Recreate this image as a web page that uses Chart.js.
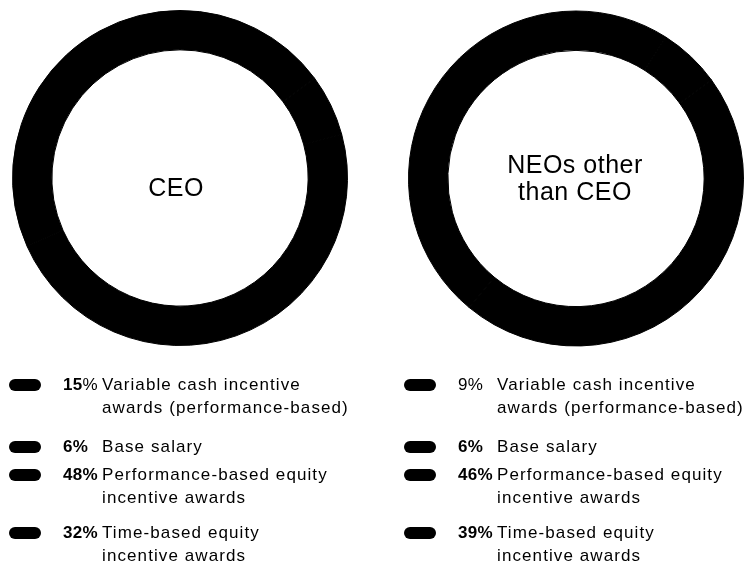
<!DOCTYPE html>
<html>
<head>
<meta charset="utf-8">
<script src="https://cdn.jsdelivr.net/npm/chart.js@4.4.1/dist/chart.umd.min.js"></script>
<style>
  html, body { margin: 0; padding: 0; background: #fff; }
  #wrap { position: relative; width: 753px; height: 563px; overflow: hidden; }
  canvas { position: absolute; top: 0; }
</style>
</head>
<body>
<div id="wrap">
  <canvas id="ceo" width="376" height="563" style="left:0"></canvas>
  <canvas id="neo" width="377" height="563" style="left:376px"></canvas>
</div>
<script>
// categories (each label split in the lines shown in the legend)
const categories = [
  ["Variable cash incentive", "awards (performance-based)"],
  ["Base salary"],
  ["Performance-based equity", "incentive awards"],
  ["Time-based equity", "incentive awards"]
];
const ceoValues = [15, 6, 48, 32];
const neoValues = [9, 6, 46, 39];
const ceoTitle = ["CEO"];
const neoTitle = ["NEOs other", "than CEO"];

const FONT = '"Liberation Sans", Arial, Helvetica, sans-serif';
const rowBaselines = [390, 452, 480, 538];

// center text + legend drawn from chart data
const extras = {
  id: 'extras',
  afterDraw(chart, args, opts) {
    const ctx = chart.ctx;
    const arc = chart.getDatasetMeta(0).data[0];
    const cx = arc.x, cy = arc.y;
    ctx.save();
    ctx.fillStyle = '#000';
    ctx.textAlign = 'center';
    ctx.textBaseline = 'alphabetic';
    ctx.font = '25px ' + FONT;
    ctx.letterSpacing = '0.5px';
    opts.title.forEach((t, i) => {
      ctx.fillText(t, cx + opts.titleDx, cy + opts.titleDy + i * 27);
    });

    const values = chart.data.datasets[0].data;
    const labels = chart.data.labels;
    ctx.textAlign = 'left';
    values.forEach((v, i) => {
      const base = rowBaselines[i];
      const mx = opts.legendX;
      // pill marker
      ctx.beginPath();
      ctx.roundRect(mx, base - 11, 32, 12, 6);
      ctx.fill();
      // percentage
      const numBold = !(opts.plainFirst && i === 0);
      const pctBold = i !== 0;
      ctx.letterSpacing = '0.3px';
      ctx.font = (numBold ? 'bold ' : '') + '17px ' + FONT;
      ctx.fillText(String(v), mx + 54, base);
      const w = ctx.measureText(String(v)).width;
      ctx.font = (pctBold ? 'bold ' : '') + '17px ' + FONT;
      ctx.fillText('%', mx + 54 + w, base);
      // label lines
      ctx.letterSpacing = '1.1px';
      ctx.font = '17px ' + FONT;
      labels[i].forEach((line, j) => {
        ctx.fillText(line, mx + 93, base + j * 23);
      });
    });
    ctx.restore();
  }
};

function makeDonut(id, values, title, padding, extraOpts) {
  return new Chart(document.getElementById(id), {
    type: 'doughnut',
    data: {
      labels: categories,
      datasets: [{
        data: values,
        backgroundColor: '#000',
        borderColor: '#000',
        borderWidth: 1,
        hoverOffset: 0
      }]
    },
    options: {
      responsive: false,
      maintainAspectRatio: false,
      devicePixelRatio: 1,
      animation: false,
      cutout: '76.5%',
      layout: { padding: padding },
      plugins: {
        legend: { display: false },
        tooltip: { enabled: false },
        extras: Object.assign({ title: title }, extraOpts)
      }
    },
    plugins: [extras]
  });
}

makeDonut('ceo', ceoValues, ceoTitle,
  { left: 12, right: 28, top: 10, bottom: 217 },
  { titleDx: -4, titleDy: 18, legendX: 9, plainFirst: false });
makeDonut('neo', neoValues, neoTitle,
  { left: 32, right: 9, top: 10, bottom: 216 },
  { titleDx: -1, titleDy: -6, legendX: 28, plainFirst: true });
</script>
</body>
</html>
